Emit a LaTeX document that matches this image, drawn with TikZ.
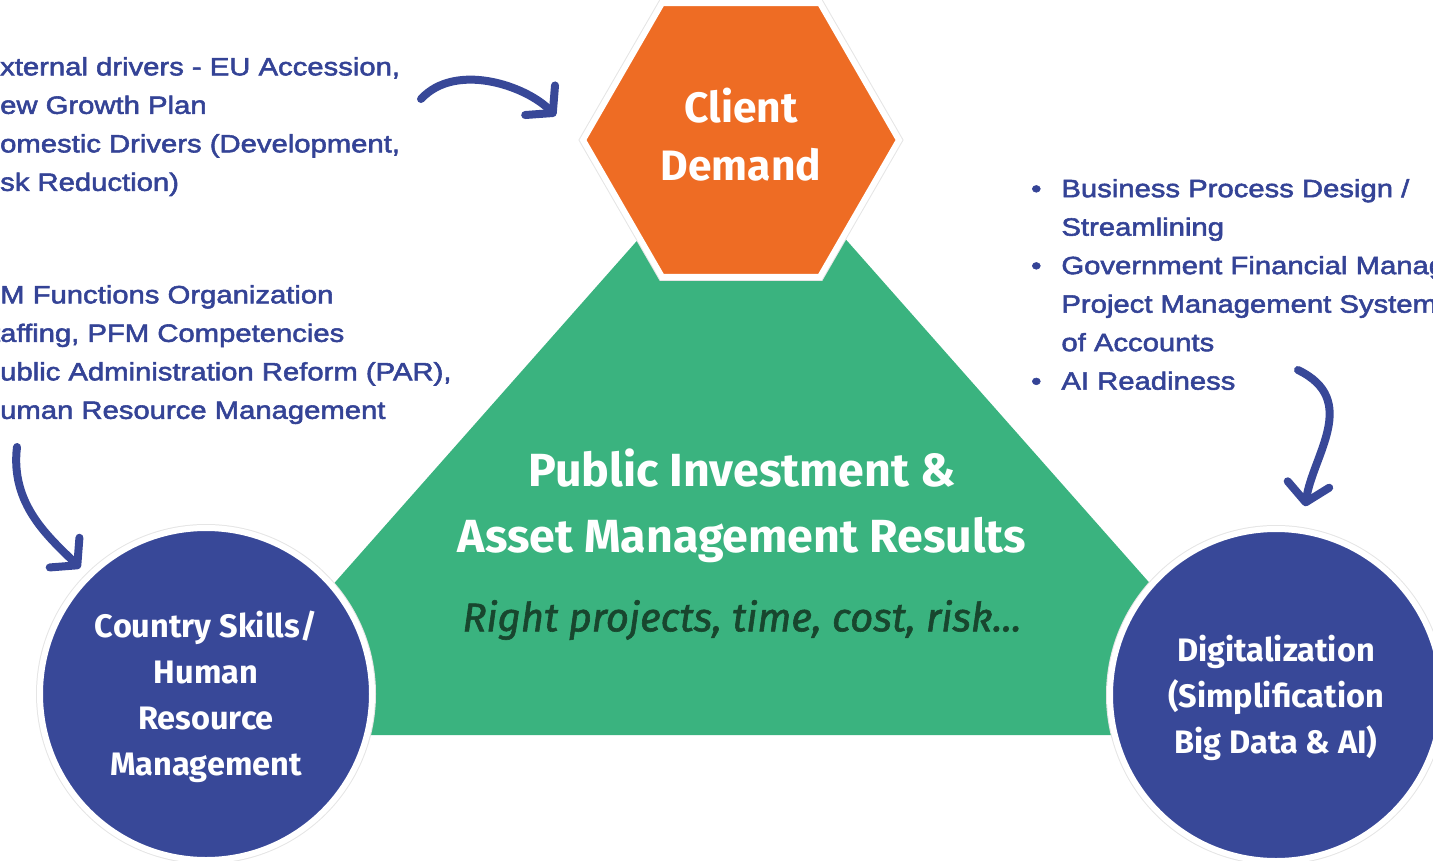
\documentclass[tikz,border=0pt]{standalone}
\usepackage{fontspec}
\setmainfont{Liberation Sans}
\newfontfamily\bodyfont{Liberation Sans}[FakeBold=2.2,FakeStretch=1.17]
\newfontfamily\labelfont{Fira Sans}
\newfontfamily\tagfont{Fira Sans}[FakeBold=1.5]
\usetikzlibrary{shapes.geometric,arrows.meta}

\definecolor{hexorange}{RGB}{238,108,36}
\definecolor{trigreen}{RGB}{58,179,127}
\definecolor{circblue}{RGB}{56,72,152}
\definecolor{txtblue}{RGB}{52,67,150}
\definecolor{tagdark}{RGB}{24,70,46}

\tikzset{
  blob/.style={circle,minimum size=332pt,inner sep=0pt,fill=circblue,draw=white,line width=6pt,
    preaction={draw=black!10,line width=8pt}},
  blobtext/.style={text=white,align=center,font=\labelfont\bfseries\fontsize{32.5}{46}\selectfont},
  note/.style={inner sep=0pt,anchor=north west,align=left,text=txtblue,
    font=\bodyfont\fontsize{25}{38.5}\selectfont},
  flow/.style={draw=circblue,line width=8pt,line cap=round,
    -{Straight Barb[length=18pt,width=42pt,round]}},
}

\begin{document}
\begin{tikzpicture}[x=1pt,y=-1pt]
\useasboundingbox (0,0) rectangle (1433,860);
\clip (0,0) rectangle (1433,860);

% results triangle
\fill[trigreen] (742,122) -- (1284,735) -- (200,735) -- cycle;
\node[text=white,align=center,font=\labelfont\bfseries\fontsize{46.5}{66}\selectfont] (results) at (742,506) {Public Investment \&\\Asset Management Results};
\node[text=tagdark,font=\tagfont\itshape\fontsize{40}{44}\selectfont] (tagline) at (742,620) {Right projects, time, cost, risk...};

% the three pillars
\node[blob] (skills) at (206,694) {};
\node[blob] (digital) at (1276,695) {};
\node[regular polygon,regular polygon sides=6,minimum size=316pt,inner sep=0pt,fill=hexorange,draw=white,line width=6pt,
  preaction={draw=black!10,line width=8pt}] (demand) at (741,140) {};
\node[blobtext] (skillstxt) at (206,697) {Country Skills/\\Human\\Resource\\Management};
\node[blobtext] (digitaltxt) at (1276,698) {Digitalization\\(Simplification\\Big Data \& AI)};
\node[blobtext,font=\labelfont\bfseries\fontsize{42.5}{58}\selectfont] (demandtxt) at (741,135) {Client\\Demand};

% side notes
\node[note] (drivers) at (0,57) {\llap{E}xternal drivers - EU Accession,\\\llap{N}ew Growth Plan\\\llap{D}omestic Drivers (Development,\\\llap{Ri}sk Reduction)};
\node[note] (pfm) at (0,285) {\llap{PF}M Functions Organization\\\llap{St}affing, PFM Competencies\\\llap{P}ublic Administration Reform (PAR),\\\llap{H}uman Resource Management};
\node[note] (systems) at (1031,170) {\begin{tabular}{@{}l@{\hspace{20pt}}l@{}}
\textbullet & Business Process Design /\\
 & Streamlining\\
\textbullet & Government Financial Management\\
 & Project Management System\\
 & of Accounts\\
\textbullet & AI Readiness
\end{tabular}};

% arrows
\coordinate (drvtail) at (421,99);
\coordinate (pfmtail) at (17,447);
\coordinate (systail) at (1298,370);
\draw[flow,shorten >=34pt] (drvtail) .. controls (455,62) and (525,85) .. (demand.west);
\draw[flow,shorten >=9pt] (pfmtail) .. controls (10,505) and (50,538) .. (skills);
\draw[flow,shorten >=22pt] (systail) .. controls (1360,400) and (1313,455) .. (digital);
\end{tikzpicture}
\end{document}
